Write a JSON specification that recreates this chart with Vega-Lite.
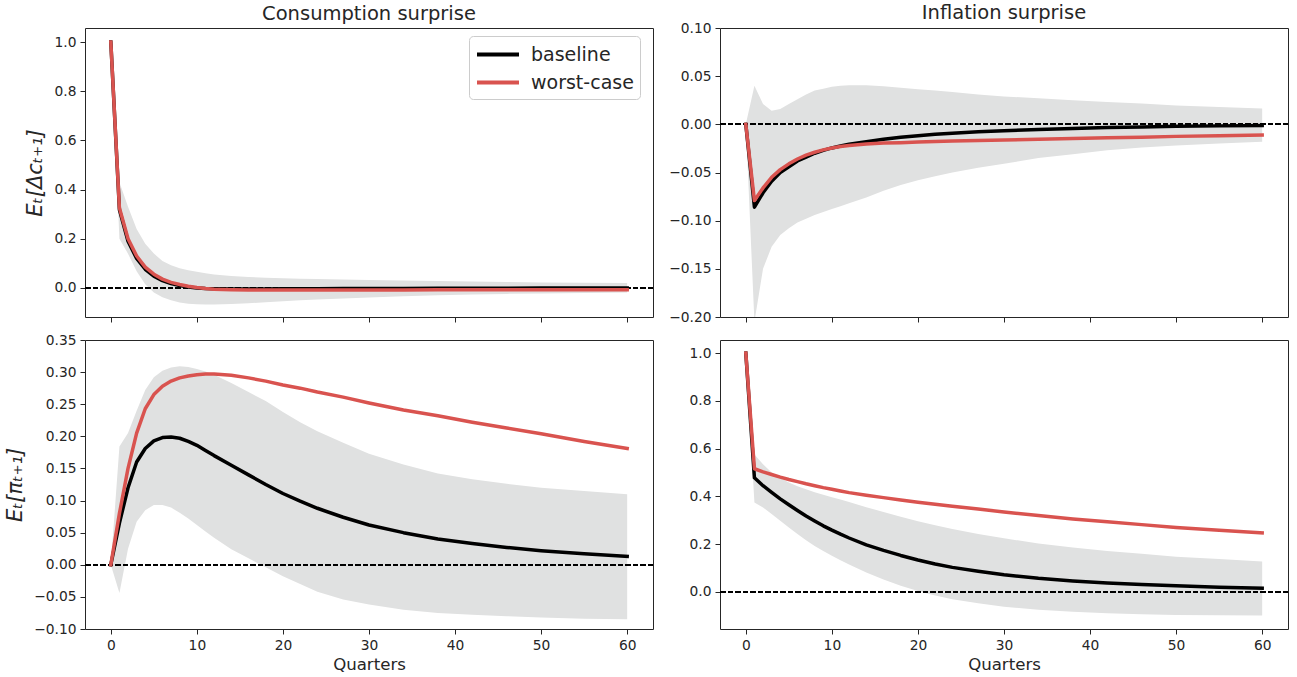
{
  "$schema": "https://vega.github.io/schema/vega-lite/v6.json",
  "padding": {"left": 4, "top": 2, "right": 6, "bottom": 3},
  "background": "white",
  "config": {
    "font": "DejaVu Sans",
    "view": {"stroke": "#262626", "strokeWidth": 1},
    "axis": {
      "domain": false, "grid": false,
      "labelFont": "DejaVu Sans", "labelFontSize": 13.8, "labelColor": "#262626",
      "tickColor": "#262626", "tickSize": 5, "tickWidth": 1, "labelPadding": 4,
      "labelFlush": false, "labelOverlap": false,
      "titleFont": "DejaVu Sans", "titleFontWeight": "normal", "titleColor": "#262626", "titleFontSize": 16.6
    },
    "title": {"font": "DejaVu Sans", "fontSize": 19.5, "fontWeight": "normal", "color": "#262626", "offset": 4, "anchor": "middle"}
  },
  "datasets": {
    "irf": [
      {"panel":"TL","t":0,"baseline":1.0,"worst-case":1.0,"lo":1.0,"hi":1.0},
      {"panel":"TL","t":1,"baseline":0.318,"worst-case":0.325,"lo":0.2,"hi":0.43},
      {"panel":"TL","t":2,"baseline":0.19,"worst-case":0.2,"lo":0.139,"hi":0.33},
      {"panel":"TL","t":3,"baseline":0.12,"worst-case":0.13,"lo":0.068,"hi":0.24},
      {"panel":"TL","t":4,"baseline":0.076,"worst-case":0.085,"lo":0.015,"hi":0.18},
      {"panel":"TL","t":5,"baseline":0.048,"worst-case":0.056,"lo":-0.018,"hi":0.14},
      {"panel":"TL","t":6,"baseline":0.03,"worst-case":0.036,"lo":-0.038,"hi":0.11},
      {"panel":"TL","t":7,"baseline":0.018,"worst-case":0.023,"lo":-0.05,"hi":0.092},
      {"panel":"TL","t":8,"baseline":0.01,"worst-case":0.014,"lo":-0.059,"hi":0.08},
      {"panel":"TL","t":9,"baseline":0.004,"worst-case":0.007,"lo":-0.064,"hi":0.072},
      {"panel":"TL","t":10,"baseline":0.0,"worst-case":0.002,"lo":-0.066,"hi":0.066},
      {"panel":"TL","t":11,"baseline":-0.002,"worst-case":-0.002,"lo":-0.067,"hi":0.06},
      {"panel":"TL","t":12,"baseline":-0.003,"worst-case":-0.005,"lo":-0.067,"hi":0.055},
      {"panel":"TL","t":14,"baseline":-0.004,"worst-case":-0.007,"lo":-0.065,"hi":0.049},
      {"panel":"TL","t":16,"baseline":-0.004,"worst-case":-0.008,"lo":-0.062,"hi":0.045},
      {"panel":"TL","t":18,"baseline":-0.004,"worst-case":-0.008,"lo":-0.058,"hi":0.042},
      {"panel":"TL","t":20,"baseline":-0.0035,"worst-case":-0.008,"lo":-0.054,"hi":0.04},
      {"panel":"TL","t":22,"baseline":-0.003,"worst-case":-0.008,"lo":-0.05,"hi":0.038},
      {"panel":"TL","t":24,"baseline":-0.003,"worst-case":-0.008,"lo":-0.047,"hi":0.036},
      {"panel":"TL","t":27,"baseline":-0.0025,"worst-case":-0.008,"lo":-0.043,"hi":0.034},
      {"panel":"TL","t":30,"baseline":-0.002,"worst-case":-0.008,"lo":-0.039,"hi":0.032},
      {"panel":"TL","t":34,"baseline":-0.002,"worst-case":-0.0078,"lo":-0.034,"hi":0.03},
      {"panel":"TL","t":38,"baseline":-0.0015,"worst-case":-0.0076,"lo":-0.03,"hi":0.028},
      {"panel":"TL","t":42,"baseline":-0.001,"worst-case":-0.0074,"lo":-0.027,"hi":0.026},
      {"panel":"TL","t":46,"baseline":-0.001,"worst-case":-0.0072,"lo":-0.024,"hi":0.024},
      {"panel":"TL","t":50,"baseline":-0.0005,"worst-case":-0.007,"lo":-0.022,"hi":0.022},
      {"panel":"TL","t":55,"baseline":-0.0003,"worst-case":-0.007,"lo":-0.02,"hi":0.021},
      {"panel":"TL","t":60,"baseline":0.0,"worst-case":-0.007,"lo":-0.018,"hi":0.02},

      {"panel":"TR","t":0,"baseline":0,"worst-case":0,"lo":0,"hi":0},
      {"panel":"TR","t":1,"baseline":-0.086,"worst-case":-0.079,"lo":-0.205,"hi":0.04},
      {"panel":"TR","t":2,"baseline":-0.071,"worst-case":-0.066,"lo":-0.15,"hi":0.021},
      {"panel":"TR","t":3,"baseline":-0.059,"worst-case":-0.055,"lo":-0.127,"hi":0.014},
      {"panel":"TR","t":4,"baseline":-0.05,"worst-case":-0.047,"lo":-0.115,"hi":0.016},
      {"panel":"TR","t":5,"baseline":-0.044,"worst-case":-0.041,"lo":-0.108,"hi":0.021},
      {"panel":"TR","t":6,"baseline":-0.038,"worst-case":-0.036,"lo":-0.102,"hi":0.026},
      {"panel":"TR","t":7,"baseline":-0.034,"worst-case":-0.032,"lo":-0.098,"hi":0.031},
      {"panel":"TR","t":8,"baseline":-0.03,"worst-case":-0.029,"lo":-0.094,"hi":0.035},
      {"panel":"TR","t":9,"baseline":-0.027,"worst-case":-0.0265,"lo":-0.091,"hi":0.037},
      {"panel":"TR","t":10,"baseline":-0.0245,"worst-case":-0.0245,"lo":-0.088,"hi":0.039},
      {"panel":"TR","t":11,"baseline":-0.0225,"worst-case":-0.023,"lo":-0.085,"hi":0.04},
      {"panel":"TR","t":12,"baseline":-0.0207,"worst-case":-0.022,"lo":-0.082,"hi":0.0405},
      {"panel":"TR","t":14,"baseline":-0.018,"worst-case":-0.0205,"lo":-0.076,"hi":0.0405},
      {"panel":"TR","t":16,"baseline":-0.0155,"worst-case":-0.0195,"lo":-0.069,"hi":0.0395},
      {"panel":"TR","t":18,"baseline":-0.0135,"worst-case":-0.019,"lo":-0.063,"hi":0.038},
      {"panel":"TR","t":20,"baseline":-0.0118,"worst-case":-0.0183,"lo":-0.058,"hi":0.0365},
      {"panel":"TR","t":22,"baseline":-0.0104,"worst-case":-0.0178,"lo":-0.054,"hi":0.035},
      {"panel":"TR","t":24,"baseline":-0.0092,"worst-case":-0.0173,"lo":-0.05,"hi":0.0335},
      {"panel":"TR","t":27,"baseline":-0.0078,"worst-case":-0.0168,"lo":-0.045,"hi":0.031},
      {"panel":"TR","t":30,"baseline":-0.0066,"worst-case":-0.0163,"lo":-0.041,"hi":0.029},
      {"panel":"TR","t":34,"baseline":-0.0053,"worst-case":-0.0155,"lo":-0.035,"hi":0.027},
      {"panel":"TR","t":38,"baseline":-0.0043,"worst-case":-0.0148,"lo":-0.031,"hi":0.025},
      {"panel":"TR","t":42,"baseline":-0.0034,"worst-case":-0.014,"lo":-0.027,"hi":0.0232},
      {"panel":"TR","t":46,"baseline":-0.0027,"worst-case":-0.0133,"lo":-0.024,"hi":0.0215},
      {"panel":"TR","t":50,"baseline":-0.0021,"worst-case":-0.0125,"lo":-0.022,"hi":0.0195},
      {"panel":"TR","t":55,"baseline":-0.0016,"worst-case":-0.0118,"lo":-0.02,"hi":0.018},
      {"panel":"TR","t":60,"baseline":-0.0012,"worst-case":-0.011,"lo":-0.018,"hi":0.0165},

      {"panel":"BL","t":0,"baseline":0,"worst-case":0,"lo":0,"hi":0},
      {"panel":"BL","t":1,"baseline":0.065,"worst-case":0.08,"lo":-0.044,"hi":0.184},
      {"panel":"BL","t":2,"baseline":0.12,"worst-case":0.15,"lo":0.025,"hi":0.205},
      {"panel":"BL","t":3,"baseline":0.16,"worst-case":0.205,"lo":0.067,"hi":0.24},
      {"panel":"BL","t":4,"baseline":0.181,"worst-case":0.243,"lo":0.085,"hi":0.272},
      {"panel":"BL","t":5,"baseline":0.193,"worst-case":0.265,"lo":0.093,"hi":0.292},
      {"panel":"BL","t":6,"baseline":0.198,"worst-case":0.278,"lo":0.093,"hi":0.302},
      {"panel":"BL","t":7,"baseline":0.199,"worst-case":0.286,"lo":0.089,"hi":0.307},
      {"panel":"BL","t":8,"baseline":0.197,"worst-case":0.291,"lo":0.081,"hi":0.309},
      {"panel":"BL","t":9,"baseline":0.192,"worst-case":0.294,"lo":0.072,"hi":0.308},
      {"panel":"BL","t":10,"baseline":0.186,"worst-case":0.296,"lo":0.062,"hi":0.305},
      {"panel":"BL","t":11,"baseline":0.178,"worst-case":0.297,"lo":0.052,"hi":0.301},
      {"panel":"BL","t":12,"baseline":0.17,"worst-case":0.297,"lo":0.042,"hi":0.296},
      {"panel":"BL","t":14,"baseline":0.155,"worst-case":0.295,"lo":0.024,"hi":0.283},
      {"panel":"BL","t":16,"baseline":0.14,"worst-case":0.291,"lo":0.01,"hi":0.269},
      {"panel":"BL","t":18,"baseline":0.125,"worst-case":0.286,"lo":-0.004,"hi":0.255},
      {"panel":"BL","t":20,"baseline":0.111,"worst-case":0.28,"lo":-0.018,"hi":0.238},
      {"panel":"BL","t":22,"baseline":0.099,"worst-case":0.275,"lo":-0.03,"hi":0.222},
      {"panel":"BL","t":24,"baseline":0.088,"worst-case":0.269,"lo":-0.042,"hi":0.208},
      {"panel":"BL","t":27,"baseline":0.074,"worst-case":0.261,"lo":-0.054,"hi":0.19},
      {"panel":"BL","t":30,"baseline":0.062,"worst-case":0.252,"lo":-0.062,"hi":0.173},
      {"panel":"BL","t":34,"baseline":0.05,"worst-case":0.241,"lo":-0.07,"hi":0.156},
      {"panel":"BL","t":38,"baseline":0.04,"worst-case":0.232,"lo":-0.075,"hi":0.142},
      {"panel":"BL","t":42,"baseline":0.033,"worst-case":0.222,"lo":-0.078,"hi":0.133},
      {"panel":"BL","t":46,"baseline":0.027,"worst-case":0.213,"lo":-0.08,"hi":0.126},
      {"panel":"BL","t":50,"baseline":0.022,"worst-case":0.204,"lo":-0.082,"hi":0.12},
      {"panel":"BL","t":55,"baseline":0.017,"worst-case":0.192,"lo":-0.084,"hi":0.115},
      {"panel":"BL","t":60,"baseline":0.013,"worst-case":0.181,"lo":-0.085,"hi":0.11},

      {"panel":"BR","t":0,"baseline":1.0,"worst-case":1.0,"lo":1.0,"hi":1.0},
      {"panel":"BR","t":1,"baseline":0.478,"worst-case":0.516,"lo":0.375,"hi":0.576},
      {"panel":"BR","t":2,"baseline":0.445,"worst-case":0.503,"lo":0.354,"hi":0.535},
      {"panel":"BR","t":3,"baseline":0.417,"worst-case":0.492,"lo":0.326,"hi":0.5},
      {"panel":"BR","t":4,"baseline":0.39,"worst-case":0.481,"lo":0.298,"hi":0.477},
      {"panel":"BR","t":5,"baseline":0.365,"worst-case":0.471,"lo":0.27,"hi":0.458},
      {"panel":"BR","t":6,"baseline":0.341,"worst-case":0.462,"lo":0.243,"hi":0.443},
      {"panel":"BR","t":7,"baseline":0.318,"worst-case":0.453,"lo":0.217,"hi":0.43},
      {"panel":"BR","t":8,"baseline":0.297,"worst-case":0.445,"lo":0.193,"hi":0.418},
      {"panel":"BR","t":9,"baseline":0.277,"worst-case":0.437,"lo":0.172,"hi":0.407},
      {"panel":"BR","t":10,"baseline":0.259,"worst-case":0.43,"lo":0.152,"hi":0.397},
      {"panel":"BR","t":11,"baseline":0.242,"worst-case":0.423,"lo":0.133,"hi":0.387},
      {"panel":"BR","t":12,"baseline":0.226,"worst-case":0.416,"lo":0.115,"hi":0.377},
      {"panel":"BR","t":14,"baseline":0.197,"worst-case":0.405,"lo":0.082,"hi":0.355},
      {"panel":"BR","t":16,"baseline":0.174,"worst-case":0.395,"lo":0.052,"hi":0.335},
      {"panel":"BR","t":18,"baseline":0.153,"worst-case":0.385,"lo":0.026,"hi":0.315},
      {"panel":"BR","t":20,"baseline":0.134,"worst-case":0.376,"lo":0.004,"hi":0.296},
      {"panel":"BR","t":22,"baseline":0.117,"worst-case":0.367,"lo":-0.015,"hi":0.279},
      {"panel":"BR","t":24,"baseline":0.103,"worst-case":0.359,"lo":-0.03,"hi":0.264},
      {"panel":"BR","t":27,"baseline":0.087,"worst-case":0.347,"lo":-0.047,"hi":0.243},
      {"panel":"BR","t":30,"baseline":0.072,"worst-case":0.335,"lo":-0.062,"hi":0.225},
      {"panel":"BR","t":34,"baseline":0.057,"worst-case":0.32,"lo":-0.074,"hi":0.203},
      {"panel":"BR","t":38,"baseline":0.046,"worst-case":0.306,"lo":-0.083,"hi":0.186},
      {"panel":"BR","t":42,"baseline":0.038,"worst-case":0.294,"lo":-0.089,"hi":0.172},
      {"panel":"BR","t":46,"baseline":0.031,"worst-case":0.282,"lo":-0.093,"hi":0.16},
      {"panel":"BR","t":50,"baseline":0.026,"worst-case":0.27,"lo":-0.096,"hi":0.148},
      {"panel":"BR","t":55,"baseline":0.02,"worst-case":0.258,"lo":-0.097,"hi":0.138},
      {"panel":"BR","t":60,"baseline":0.016,"worst-case":0.247,"lo":-0.098,"hi":0.128}
    ]
  },
  "columns": 2,
  "spacing": {"row": 23, "column": 67},
  "bounds": "flush",
  "concat": [
    {
      "width": 568, "height": 289,
      "title": {"text": "Consumption surprise", "offset": 4},
      "data": {"name": "irf"},
      "transform": [{"filter": "datum.panel == 'TL'"}],
      "layer": [
        {"mark": {"type": "area", "color": "#e0e1e1", "opacity": 1, "clip": true},
         "encoding": {
           "x": {"field": "t", "type": "quantitative", "scale": {"domain": [-3, 63], "nice": false, "zero": false}, "axis": {"values": [0,10,20,30,40,50,60], "labels": false}, "title": null},
           "y": {"field": "lo", "type": "quantitative", "scale": {"domain": [-0.118, 1.057], "nice": false, "zero": false}, "axis": {"values": [0,0.2,0.4,0.6,0.8,1.0], "format": ".1f", "titleFontStyle": "italic", "titleFontSize": 21, "titlePadding": 9}, "title": "Eₜ[Δcₜ₊₁]"},
           "y2": {"field": "hi"}
         }},
        {"mark": {"type": "rule", "color": "black", "strokeWidth": 1.2, "strokeDash": [5, 2.5]},
         "encoding": {"y": {"datum": 0, "type": "quantitative", "axis": {"values": [0,0.2,0.4,0.6,0.8,1.0], "format": ".1f", "titleFontStyle": "italic", "titleFontSize": 21, "titlePadding": 9}, "title": "Eₜ[Δcₜ₊₁]"}}},
        {"transform": [{"fold": ["baseline", "worst-case"], "as": ["series", "value"]}],
         "mark": {"type": "line", "strokeWidth": 3.5, "strokeCap": "square", "strokeJoin": "round", "clip": true},
         "encoding": {
           "x": {"field": "t", "type": "quantitative", "axis": {"values": [0,10,20,30,40,50,60], "labels": false}, "title": null},
           "y": {"field": "value", "type": "quantitative", "axis": {"values": [0,0.2,0.4,0.6,0.8,1.0], "format": ".1f", "titleFontStyle": "italic", "titleFontSize": 21, "titlePadding": 9}, "title": "Eₜ[Δcₜ₊₁]"},
           "color": {"field": "series", "type": "nominal",
             "scale": {"domain": ["baseline", "worst-case"], "range": ["#000000", "#d9534f"]},
             "legend": {"orient": "none", "legendX": 384, "legendY": 8, "title": null,
               "symbolType": "M-1,0L3,0", "symbolSize": 441, "symbolStrokeWidth": 4,
               "labelFont": "DejaVu Sans", "labelFontSize": 19, "labelColor": "#262626", "labelOffset": 31,
               "padding": 6, "rowPadding": 5, "strokeColor": "#cccccc", "fillColor": "white", "cornerRadius": 4}}
         }}
      ]
    },
    {
      "width": 568, "height": 289,
      "title": {"text": "Inflation surprise", "offset": -2},
      "data": {"name": "irf"},
      "transform": [{"filter": "datum.panel == 'TR'"}],
      "layer": [
        {"mark": {"type": "area", "color": "#e0e1e1", "opacity": 1, "clip": true},
         "encoding": {
           "x": {"field": "t", "type": "quantitative", "scale": {"domain": [-3, 63], "nice": false, "zero": false}, "axis": {"values": [0,10,20,30,40,50,60], "labels": false}, "title": null},
           "y": {"field": "lo", "type": "quantitative", "scale": {"domain": [-0.2, 0.1], "nice": false, "zero": false}, "axis": {"values": [-0.2,-0.15,-0.1,-0.05,0,0.05,0.1], "format": ".2f"}, "title": null},
           "y2": {"field": "hi"}
         }},
        {"mark": {"type": "rule", "color": "black", "strokeWidth": 1.2, "strokeDash": [5, 2.5]},
         "encoding": {"y": {"datum": 0, "type": "quantitative", "axis": {"values": [-0.2,-0.15,-0.1,-0.05,0,0.05,0.1], "format": ".2f"}, "title": null}}},
        {"mark": {"type": "line", "color": "#000000", "strokeWidth": 3.5, "strokeCap": "square", "strokeJoin": "round", "clip": true},
         "encoding": {"x": {"field": "t", "type": "quantitative", "axis": {"values": [0,10,20,30,40,50,60], "labels": false}, "title": null}, "y": {"field": "baseline", "type": "quantitative", "axis": {"values": [-0.2,-0.15,-0.1,-0.05,0,0.05,0.1], "format": ".2f"}, "title": null}}},
        {"mark": {"type": "line", "color": "#d9534f", "strokeWidth": 3.5, "strokeCap": "square", "strokeJoin": "round", "clip": true},
         "encoding": {"x": {"field": "t", "type": "quantitative", "axis": {"values": [0,10,20,30,40,50,60], "labels": false}, "title": null}, "y": {"field": "worst-case", "type": "quantitative", "axis": {"values": [-0.2,-0.15,-0.1,-0.05,0,0.05,0.1], "format": ".2f"}, "title": null}}}
      ]
    },
    {
      "width": 568, "height": 289,
      "data": {"name": "irf"},
      "transform": [{"filter": "datum.panel == 'BL'"}],
      "layer": [
        {"mark": {"type": "area", "color": "#e0e1e1", "opacity": 1, "clip": true},
         "encoding": {
           "x": {"field": "t", "type": "quantitative", "scale": {"domain": [-3, 63], "nice": false, "zero": false}, "axis": {"values": [0,10,20,30,40,50,60], "titlePadding": 5}, "title": "Quarters"},
           "y": {"field": "lo", "type": "quantitative", "scale": {"domain": [-0.1, 0.35], "nice": false, "zero": false}, "axis": {"values": [-0.1,-0.05,0,0.05,0.1,0.15,0.2,0.25,0.3,0.35], "format": ".2f", "titleFontStyle": "italic", "titleFontSize": 21, "titlePadding": 8}, "title": "Eₜ[πₜ₊₁]"},
           "y2": {"field": "hi"}
         }},
        {"mark": {"type": "rule", "color": "black", "strokeWidth": 1.2, "strokeDash": [5, 2.5]},
         "encoding": {"y": {"datum": 0, "type": "quantitative", "axis": {"values": [-0.1,-0.05,0,0.05,0.1,0.15,0.2,0.25,0.3,0.35], "format": ".2f", "titleFontStyle": "italic", "titleFontSize": 21, "titlePadding": 8}, "title": "Eₜ[πₜ₊₁]"}}},
        {"mark": {"type": "line", "color": "#000000", "strokeWidth": 3.5, "strokeCap": "square", "strokeJoin": "round", "clip": true},
         "encoding": {"x": {"field": "t", "type": "quantitative", "axis": {"values": [0,10,20,30,40,50,60], "titlePadding": 5}, "title": "Quarters"}, "y": {"field": "baseline", "type": "quantitative", "axis": {"values": [-0.1,-0.05,0,0.05,0.1,0.15,0.2,0.25,0.3,0.35], "format": ".2f", "titleFontStyle": "italic", "titleFontSize": 21, "titlePadding": 8}, "title": "Eₜ[πₜ₊₁]"}}},
        {"mark": {"type": "line", "color": "#d9534f", "strokeWidth": 3.5, "strokeCap": "square", "strokeJoin": "round", "clip": true},
         "encoding": {"x": {"field": "t", "type": "quantitative", "axis": {"values": [0,10,20,30,40,50,60], "titlePadding": 5}, "title": "Quarters"}, "y": {"field": "worst-case", "type": "quantitative", "axis": {"values": [-0.1,-0.05,0,0.05,0.1,0.15,0.2,0.25,0.3,0.35], "format": ".2f", "titleFontStyle": "italic", "titleFontSize": 21, "titlePadding": 8}, "title": "Eₜ[πₜ₊₁]"}}}
      ]
    },
    {
      "width": 568, "height": 289,
      "data": {"name": "irf"},
      "transform": [{"filter": "datum.panel == 'BR'"}],
      "layer": [
        {"mark": {"type": "area", "color": "#e0e1e1", "opacity": 1, "clip": true},
         "encoding": {
           "x": {"field": "t", "type": "quantitative", "scale": {"domain": [-3, 63], "nice": false, "zero": false}, "axis": {"values": [0,10,20,30,40,50,60], "titlePadding": 5}, "title": "Quarters"},
           "y": {"field": "lo", "type": "quantitative", "scale": {"domain": [-0.155, 1.055], "nice": false, "zero": false}, "axis": {"values": [0,0.2,0.4,0.6,0.8,1.0], "format": ".1f"}, "title": null},
           "y2": {"field": "hi"}
         }},
        {"mark": {"type": "rule", "color": "black", "strokeWidth": 1.2, "strokeDash": [5, 2.5]},
         "encoding": {"y": {"datum": 0, "type": "quantitative", "axis": {"values": [0,0.2,0.4,0.6,0.8,1.0], "format": ".1f"}, "title": null}}},
        {"mark": {"type": "line", "color": "#000000", "strokeWidth": 3.5, "strokeCap": "square", "strokeJoin": "round", "clip": true},
         "encoding": {"x": {"field": "t", "type": "quantitative", "axis": {"values": [0,10,20,30,40,50,60], "titlePadding": 5}, "title": "Quarters"}, "y": {"field": "baseline", "type": "quantitative", "axis": {"values": [0,0.2,0.4,0.6,0.8,1.0], "format": ".1f"}, "title": null}}},
        {"mark": {"type": "line", "color": "#d9534f", "strokeWidth": 3.5, "strokeCap": "square", "strokeJoin": "round", "clip": true},
         "encoding": {"x": {"field": "t", "type": "quantitative", "axis": {"values": [0,10,20,30,40,50,60], "titlePadding": 5}, "title": "Quarters"}, "y": {"field": "worst-case", "type": "quantitative", "axis": {"values": [0,0.2,0.4,0.6,0.8,1.0], "format": ".1f"}, "title": null}}}
      ]
    }
  ]
}
